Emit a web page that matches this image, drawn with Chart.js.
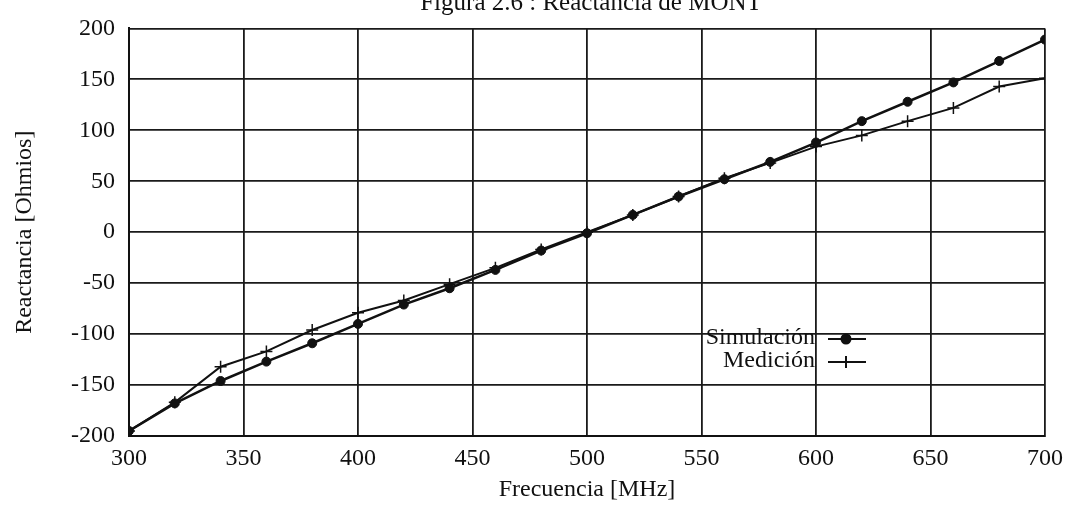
<!DOCTYPE html>
<html>
<head>
<meta charset="utf-8">
<script src="https://cdn.jsdelivr.net/npm/chart.js@4.4.1/dist/chart.umd.min.js"></script>
<style>
  html, body { margin: 0; padding: 0; background: #ffffff; }
  #wrap { width: 1071px; height: 506px; position: relative; }
</style>
</head>
<body>
<div id="wrap"><canvas id="c" width="1071" height="506"></canvas></div>
<script>
// ---- data ----
const chartTitle = 'Figura 2.6 : Reactancia de MONT';
const xTitle = 'Frecuencia [MHz]';
const yTitle = 'Reactancia [Ohmios]';
const seriesNames = ['Simulación', 'Medición'];
const frequencies = [300, 320, 340, 360, 380, 400, 420, 440, 460, 480, 500,
                     520, 540, 560, 580, 600, 620, 640, 660, 680, 700];
const simulacion = [-195, -168, -146, -127, -109, -90, -71, -55, -37, -18, -1,
                    17, 35, 52, 69, 88, 109, 128, 147, 168, 189];
const medicion = [-195, -167, -132, -117, -96, -79, -67, -51, -35, -17, 0,
                  17, 35, 53, 68, 84, 95, 109, 122, 143, 151];
const xTicks = [300, 350, 400, 450, 500, 550, 600, 650, 700];
const yTicks = [-200, -150, -100, -50, 0, 50, 100, 150, 200];

const FONT = '"Liberation Serif", "DejaVu Serif", serif';
const INK = '#111111';

function toPoints(xs, ys) { return xs.map((x, i) => ({ x: x, y: ys[i] })); }

const decor = {
  id: 'decor',
  afterDraw(chart) {
    const ctx = chart.ctx;
    ctx.save();
    ctx.fillStyle = INK;
    ctx.strokeStyle = INK;
    // title (clipped at the top edge like the scan)
    ctx.font = '25px ' + FONT;
    ctx.textAlign = 'center';
    ctx.textBaseline = 'alphabetic';
    ctx.fillText(chartTitle, 591, 10);

    // legend inside the plot
    const items = [
      { label: seriesNames[0], y: 338, ds: chart.data.datasets[0] },
      { label: seriesNames[1], y: 361, ds: chart.data.datasets[1] }
    ];
    ctx.font = '24px ' + FONT;
    ctx.textAlign = 'right';
    ctx.textBaseline = 'middle';
    items.forEach(it => {
      ctx.fillText(it.label, 815, it.y);
      ctx.beginPath();
      ctx.lineWidth = 2;
      ctx.moveTo(828, it.y + 1);
      ctx.lineTo(866, it.y + 1);
      ctx.stroke();
      Chart.helpers.drawPoint(ctx, {
        pointStyle: it.ds.pointStyle,
        radius: it.ds.pointRadius,
        borderWidth: it.ds.pointBorderWidth || 1.5
      }, 846, it.y + 1);
      if (it.ds.pointStyle === 'circle') ctx.fill();
    });
    ctx.restore();
  }
};

new Chart(document.getElementById('c'), {
  type: 'line',
  data: {
    datasets: [
      {
        label: seriesNames[0],
        data: toPoints(frequencies, simulacion),
        borderColor: INK,
        backgroundColor: INK,
        borderWidth: 2.5,
        pointStyle: 'circle',
        pointRadius: 4.5,
        pointBorderWidth: 1,
        pointBackgroundColor: INK,
        pointBorderColor: INK,
        tension: 0
      },
      {
        label: seriesNames[1],
        data: toPoints(frequencies, medicion),
        borderColor: INK,
        backgroundColor: INK,
        borderWidth: 2,
        pointStyle: 'cross',
        pointRadius: 6,
        pointBorderWidth: 1.5,
        pointBorderColor: INK,
        tension: 0
      }
    ]
  },
  options: {
    responsive: false,
    animation: false,
    devicePixelRatio: 1,
    layout: { padding: { left: 0, right: 23, top: 28, bottom: 0 } },
    plugins: {
      legend: { display: false },
      title: { display: false },
      tooltip: { enabled: false }
    },
    scales: {
      x: {
        type: 'linear',
        min: 300, max: 700,
        afterBuildTicks(scale) { scale.ticks = xTicks.map(v => ({ value: v })); },
        afterFit(scale) { scale.height = 70; },
        grid: { color: '#1a1a1a', lineWidth: 1.8, drawTicks: false },
        border: { color: INK, width: 2 },
        ticks: { color: INK, padding: 8, font: { family: FONT, size: 24 }, maxRotation: 0 },
        title: { display: true, text: xTitle, color: INK, font: { family: FONT, size: 24 }, padding: { top: 0, bottom: 2 } }
      },
      y: {
        type: 'linear',
        min: -200, max: 200,
        afterBuildTicks(scale) { scale.ticks = yTicks.map(v => ({ value: v })); },
        afterFit(scale) { scale.width = 129; },
        grid: { color: '#1a1a1a', lineWidth: 1.8, drawTicks: false },
        border: { color: INK, width: 2 },
        ticks: { color: INK, padding: 14, font: { family: FONT, size: 24 } },
        title: { display: true, text: yTitle, color: INK, font: { family: FONT, size: 24 }, padding: { top: 10, bottom: 0 } }
      }
    }
  },
  plugins: [decor]
});
</script>
</body>
</html>
